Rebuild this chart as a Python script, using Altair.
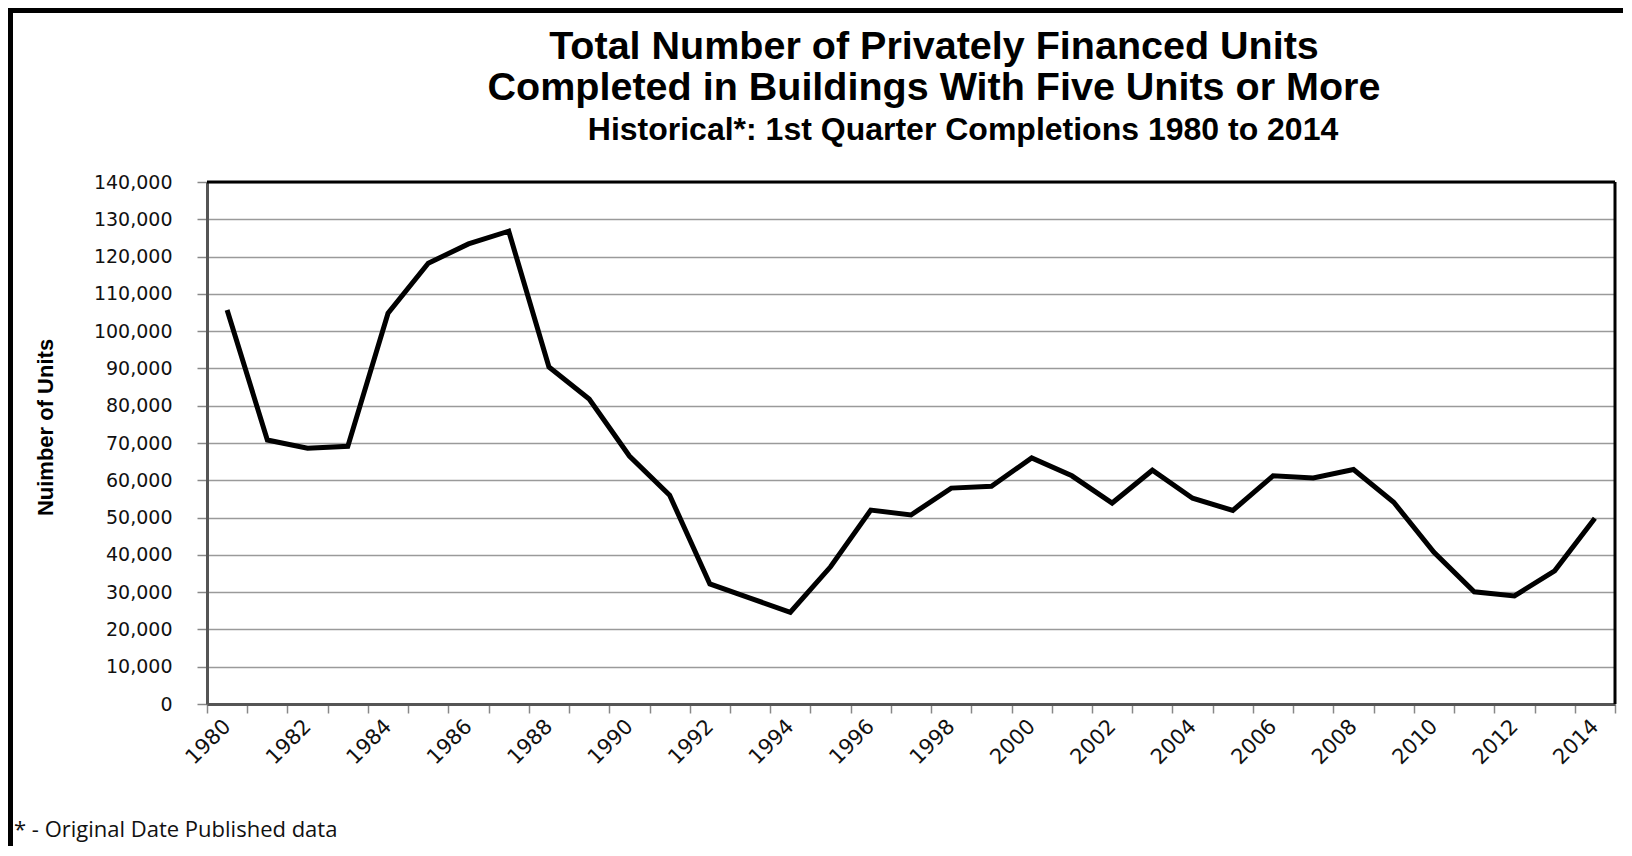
import altair as alt
import pandas as pd

years = ["1980", "1981", "1982", "1983", "1984", "1985", "1986", "1987", "1988", "1989",
         "1990", "1991", "1992", "1993", "1994", "1995", "1996", "1997", "1998", "1999",
         "2000", "2001", "2002", "2003", "2004", "2005", "2006", "2007", "2008", "2009",
         "2010", "2011", "2012", "2013", "2014"]
units = [105700, 70800, 68600, 69100, 104800, 118200, 123400, 126800, 90400, 81800,
         66500, 56000, 32200, 28400, 24600, 36800, 52000, 50700, 57900, 58400,
         66000, 61200, 53900, 62700, 55200, 51900, 61200, 60600, 62900, 54100,
         40700, 30100, 29000, 35700, 49800]
y_ticks = [0, 10000, 20000, 30000, 40000, 50000, 60000, 70000, 80000, 90000,
           100000, 110000, 120000, 130000, 140000]

title_line1 = "Total Number of Privately Financed Units"
title_line2 = "Completed in Buildings With Five Units or More"
subtitle_line = "Historical*:  1st Quarter Completions 1980 to 2014"
y_title = "Nuimber of Units"
footnote = "* - Original Date Published data"

W, H = 1408, 522

df = pd.DataFrame({"year": years, "units": units})
one = pd.DataFrame({"k": [0]})

x_enc = alt.X(
    "year:O", sort=None, bandPosition=0.5,
    scale=alt.Scale(type="band", paddingInner=0, paddingOuter=0),
    axis=alt.Axis(
        title=None, labelAngle=-45, labelAlign="right", labelBaseline="middle",
        labelExpr="toNumber(datum.value) % 2 == 0 ? datum.label : ''",
        labelOverlap=False, tickBand="extent", tickSize=9, tickColor="#888888",
        tickWidth=1.5, domainColor="#555555", domainWidth=3,
        labelFont="DejaVu Sans", labelFontSize=21, labelColor="#111111",
        labelPadding=10, grid=False,
    ),
)
y_enc = alt.Y(
    "units:Q",
    scale=alt.Scale(domain=[0, 140000], nice=False),
    axis=alt.Axis(
        values=y_ticks, format=",.0f", title=y_title,
        titleFont="Liberation Sans", titleFontWeight="bold", titleFontSize=22,
        titleColor="black", titleX=-162, titleY=245, titleAngle=270,
        titleBaseline="middle", titleAlign="center",
        labelFont="DejaVu Sans", labelFontSize=19, labelColor="#111111",
        labelPadding=25, tickSize=10, tickColor="#888888", tickWidth=1.5,
        gridColor="#9a9a9a", gridWidth=1.5, domainColor="#555555", domainWidth=3,
    ),
)

line = alt.Chart(df).mark_line(color="black", strokeWidth=5).encode(x=x_enc, y=y_enc)

top_border = alt.Chart(one).mark_rule(color="black", strokeWidth=3).encode(
    x=alt.value(0), x2=alt.value(W), y=alt.value(0))
right_border = alt.Chart(one).mark_rule(color="black", strokeWidth=3).encode(
    x=alt.value(W), y=alt.value(0), y2=alt.value(H))
frame_top = alt.Chart(one).mark_rule(color="black", strokeWidth=8).encode(
    x=alt.value(-202), x2=alt.value(W + 30), y=alt.value(-173))
frame_left = alt.Chart(one).mark_rule(color="black", strokeWidth=8).encode(
    x=alt.value(-198), y=alt.value(-177), y2=alt.value(H + 200))

title_font = dict(font="Liberation Sans", fontWeight="bold", color="black",
                  align="center", baseline="alphabetic")
t1 = alt.Chart(one).mark_text(fontSize=39.5, **title_font).encode(
    x=alt.value(727), y=alt.value(-123), text=alt.value(title_line1))
t2 = alt.Chart(one).mark_text(fontSize=39.5, **title_font).encode(
    x=alt.value(727), y=alt.value(-82), text=alt.value(title_line2))
t3 = alt.Chart(one).mark_text(fontSize=32, **title_font).encode(
    x=alt.value(756), y=alt.value(-42), text=alt.value(subtitle_line))

note = alt.Chart(one).mark_text(
    align="left", baseline="alphabetic", font="Open Sans", fontSize=22, color="#111111"
).encode(x=alt.value(-193), y=alt.value(655), text=alt.value(footnote))

chart = alt.layer(line, top_border, right_border, frame_top, frame_left,
                  t1, t2, t3, note).properties(
    width=W, height=H,
    autosize=alt.AutoSizeParams(type="none"),
    padding={"left": 199, "top": 174, "right": 8, "bottom": 142},
).configure_view(stroke=None)

chart.save("out.html", embed_options={"renderer": "svg", "actions": False})
